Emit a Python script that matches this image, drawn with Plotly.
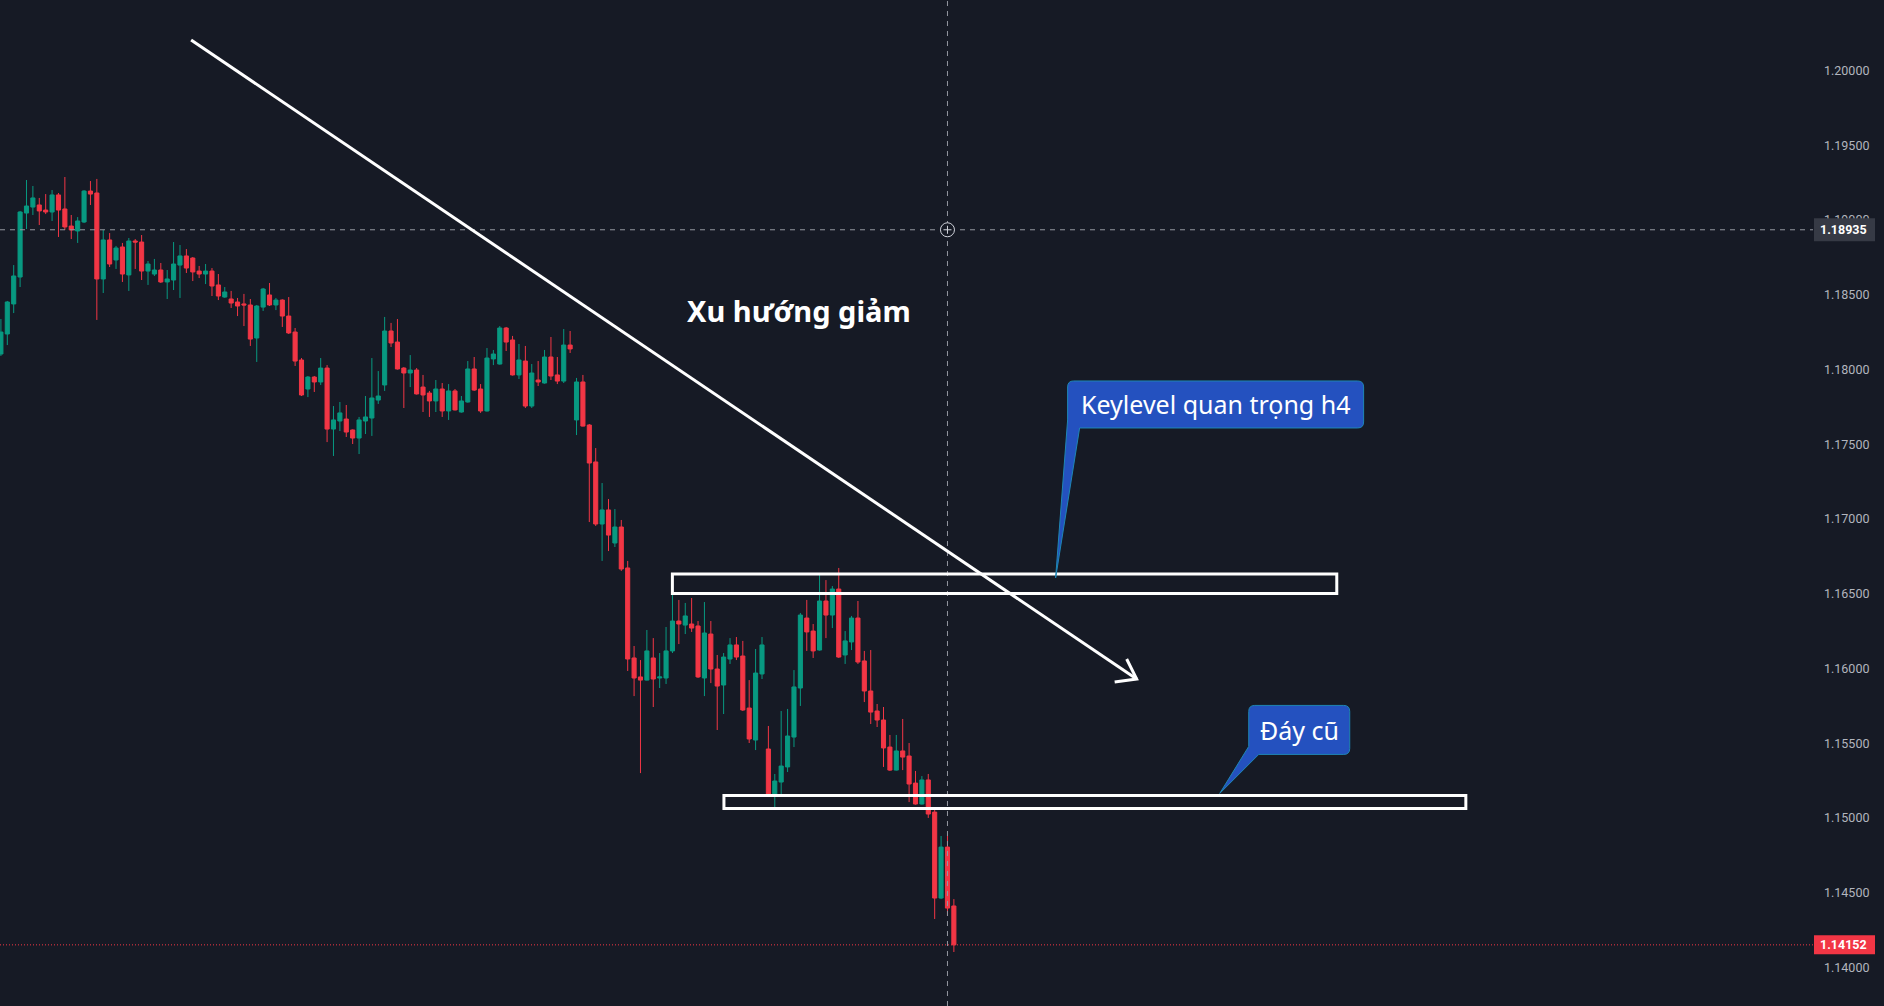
import plotly.graph_objects as go

# ---------------- data (EURUSD-like, H4 bars) ----------------
opens = [1.18104,1.18238,1.18439,1.18619,1.19047,1.19087,1.19101,1.19067,1.19054,1.19168,
         1.19074,1.18960,1.18927,1.18987,1.19194,1.19181,1.18606,1.18867,1.18733,1.18820,
         1.18633,1.18860,1.18853,1.18659,1.18639,1.18666,1.18586,1.18599,1.18699,1.18760,
         1.18746,1.18659,1.18639,1.18659,1.18566,1.18485,1.18472,1.18452,1.18439,1.18432,
         1.18211,1.18418,1.18499,1.18432,1.18465,1.18358,1.18251,1.18064,1.17870,1.17950,
         1.17917,1.18010,1.17602,1.17656,1.17669,1.17596,1.17542,1.17656,1.17676,1.17796,
         1.17897,1.18258,1.18184,1.18010,1.17977,1.17997,1.17883,1.17843,1.17790,1.17870,
         1.17723,1.17857,1.17716,1.17783,1.18004,1.17870,1.17723,1.18071,1.18037,1.18278,
         1.18198,1.17964,1.18057,1.17756,1.17930,1.17910,1.18084,1.17964,1.17923,1.18164,
         1.17663,1.17917,1.17629,1.17382,1.16967,1.17061,1.16840,1.16947,1.16673,1.16071,
         1.15944,1.15923,1.16071,1.15937,1.15937,1.16118,1.16318,1.16291,1.16298,1.16285,
         1.15937,1.16231,1.15997,1.15890,1.16064,1.16158,1.16084,1.15736,1.15522,1.15964,
         1.15462,1.15148,1.15241,1.15342,1.15542,1.15870,1.16338,1.16251,1.16124,1.16452,
         1.16358,1.16532,1.16091,1.16178,1.16338,1.16051,1.15850,1.15716,1.15656,1.15475,
         1.15321,1.15449,1.15415,1.15234,1.15094,1.15255,1.15040,1.14465,1.14806,1.14412]
highs = [1.18338,1.18459,1.18699,1.19061,1.19268,1.19228,1.19148,1.19174,1.19201,1.19181,
         1.19288,1.19034,1.19020,1.19200,1.19261,1.19275,1.18934,1.18913,1.18827,1.18847,
         1.18880,1.18873,1.18900,1.18726,1.18740,1.18713,1.18666,1.18853,1.18833,1.18806,
         1.18753,1.18693,1.18706,1.18679,1.18639,1.18552,1.18526,1.18479,1.18506,1.18472,
         1.18432,1.18546,1.18579,1.18479,1.18470,1.18485,1.18278,1.18077,1.17957,1.17957,
         1.18077,1.18030,1.17756,1.17783,1.17763,1.17600,1.17683,1.17823,1.18077,1.17990,
         1.18352,1.18312,1.18338,1.18017,1.18097,1.18010,1.17964,1.17857,1.17930,1.17910,
         1.17903,1.17870,1.17823,1.18057,1.18084,1.17903,1.18144,1.18131,1.18291,1.18285,
         1.18225,1.18171,1.18158,1.18037,1.18057,1.18131,1.18218,1.18084,1.18271,1.18258,
         1.17944,1.17964,1.17636,1.17475,1.17241,1.17134,1.17067,1.16994,1.16720,1.16151,
         1.16057,1.16258,1.16204,1.16104,1.16278,1.16546,1.16459,1.16439,1.16472,1.16318,
         1.16445,1.16318,1.16091,1.16104,1.16204,1.16211,1.16185,1.15923,1.16131,1.16211,
         1.15616,1.15295,1.15716,1.15730,1.15990,1.16372,1.16459,1.16298,1.16633,1.16592,
         1.16552,1.16673,1.16251,1.16352,1.16452,1.16118,1.16124,1.15763,1.15743,1.15556,
         1.15556,1.15663,1.15502,1.15315,1.15281,1.15295,1.15060,1.14880,1.14880,1.14458]
lows = [1.18091,1.18164,1.18378,1.18552,1.18940,1.19034,1.18967,1.19040,1.18994,1.18887,
        1.18934,1.18873,1.18847,1.18980,1.19101,1.18332,1.18512,1.18686,1.18673,1.18586,
        1.18526,1.18673,1.18599,1.18566,1.18626,1.18579,1.18472,1.18532,1.18479,1.18646,
        1.18592,1.18612,1.18572,1.18492,1.18465,1.18480,1.18412,1.18358,1.18291,1.18158,
        1.18051,1.18392,1.18425,1.18398,1.18285,1.18238,1.18024,1.17823,1.17816,1.17850,
        1.17897,1.17515,1.17422,1.17589,1.17549,1.17502,1.17435,1.17569,1.17556,1.17770,
        1.17857,1.18151,1.18000,1.17743,1.17883,1.17833,1.17716,1.17683,1.17716,1.17683,
        1.17663,1.17726,1.17712,1.17779,1.17857,1.17710,1.17719,1.18030,1.18033,1.18124,
        1.17960,1.17937,1.17743,1.17743,1.17890,1.17906,1.17930,1.17903,1.17910,1.18111,
        1.17562,1.17619,1.16980,1.16954,1.16720,1.16786,1.16813,1.16653,1.15984,1.15816,
        1.15301,1.15920,1.15743,1.15870,1.15897,1.16104,1.16164,1.16231,1.16245,1.15937,
        1.15816,1.15903,1.15589,1.15696,1.16031,1.16057,1.15716,1.15502,1.15455,1.15930,
        1.15144,1.15067,1.15154,1.15308,1.15475,1.15750,1.16118,1.16071,1.16120,1.16204,
        1.16271,1.16071,1.16031,1.16124,1.16031,1.15776,1.15629,1.15609,1.15342,1.15315,
        1.15318,1.15321,1.15107,1.15090,1.15090,1.15001,1.14325,1.14458,1.14345,1.14104]
closes = [1.18251,1.18452,1.18626,1.19054,1.19094,1.19148,1.19061,1.19054,1.19168,1.19067,
          1.18954,1.18934,1.18994,1.19194,1.19174,1.18606,1.18867,1.18706,1.18813,1.18639,
          1.18860,1.18853,1.18659,1.18706,1.18666,1.18586,1.18606,1.18706,1.18760,1.18679,
          1.18653,1.18639,1.18659,1.18559,1.18492,1.18519,1.18445,1.18425,1.18432,1.18204,
          1.18425,1.18539,1.18432,1.18465,1.18358,1.18245,1.18057,1.17830,1.17950,1.17917,
          1.18010,1.17602,1.17663,1.17710,1.17582,1.17542,1.17663,1.17683,1.17810,1.17823,
          1.18258,1.18178,1.18004,1.17977,1.17997,1.17837,1.17830,1.17790,1.17870,1.17723,
          1.17857,1.17730,1.17790,1.18004,1.17863,1.17723,1.18077,1.18104,1.18278,1.18184,
          1.17964,1.18064,1.17756,1.17977,1.17917,1.18084,1.17957,1.17923,1.18164,1.18138,
          1.17917,1.17622,1.17375,1.16967,1.17061,1.16893,1.16947,1.16666,1.16064,1.15937,
          1.15923,1.16118,1.15930,1.15944,1.16118,1.16318,1.16298,1.16352,1.16271,1.15944,
          1.16238,1.15997,1.15883,1.16077,1.16158,1.16077,1.15723,1.15529,1.15970,1.16158,
          1.15148,1.15248,1.15348,1.15549,1.15877,1.16358,1.16245,1.16118,1.16452,1.16358,
          1.16532,1.16077,1.16185,1.16338,1.16044,1.15850,1.15709,1.15656,1.15469,1.15321,
          1.15449,1.15408,1.15228,1.15094,1.15255,1.15027,1.14465,1.14806,1.14398,1.14152]
bars = list(range(len(closes)))

tick_vals = [1.140, 1.145, 1.150, 1.155, 1.160, 1.165, 1.170, 1.175, 1.180, 1.185, 1.190, 1.195, 1.200]
tick_text = ["1.14000", "1.14500", "1.15000", "1.15500", "1.16000", "1.16500", "1.17000",
             "1.17500", "1.18000", "1.18500", "1.19000", "1.19500", "1.20000"]

crosshair_bar = 148
crosshair_price = 1.18935
last_price = closes[-1]

# drawings (bar index, price)
trend_start = (29.74, 1.20204)
trend_end = (177.58, 1.15930)
arrow_wing_a = (174.14, 1.15910)
arrow_wing_b = (176.02, 1.16064)
key_box = (104.99, 208.87, 1.16502, 1.16632)
low_box = (113.05, 229.05, 1.15064, 1.15151)
trend_label = "Xu hướng giảm"
trend_label_pos = (124.86, 1.18392)
callout1_text = "Keylevel quan trọng h4"
callout1_tip = (164.91, 1.16606)
callout2_text = "Đáy cũ"
callout2_tip = (190.57, 1.15165)

BG = "#161a25"
UP = "#089981"
DOWN = "#f23645"
CALL_FILL = "#2451bf"
CALL_EDGE = "#1f86b4"

fig = go.Figure()
fig.add_trace(go.Candlestick(
    x=bars, open=opens, high=highs, low=lows, close=closes,
    increasing=dict(line=dict(color=UP, width=1), fillcolor=UP),
    decreasing=dict(line=dict(color=DOWN, width=1), fillcolor=DOWN),
    whiskerwidth=0, hoverinfo="skip", showlegend=False,
))


def callout_path(L, R, T, B, r, pl, pr):
    # pixel offsets relative to the tip, y positive upward
    return (f"M{L + r},{T} L{R - r},{T} Q{R},{T} {R},{T - r} L{R},{B + r} "
            f"Q{R},{B} {R - r},{B} L{pr},{B} L0,0 L{L},{B + pl} L{L},{T - r} "
            f"Q{L},{T} {L + r},{T} Z")


shapes = []
# crosshair
shapes.append(dict(type="line", xref="x", yref="paper", x0=crosshair_bar, x1=crosshair_bar, y0=0, y1=1,
                   line=dict(color="#9598a1", width=1, dash="5px,5px"), layer="above"))
shapes.append(dict(type="line", xref="paper", yref="y", x0=0, x1=1, y0=crosshair_price, y1=crosshair_price,
                   line=dict(color="#9598a1", width=1, dash="5px,5px"), layer="above"))
# last price dotted line
shapes.append(dict(type="line", xref="paper", yref="y", x0=0, x1=1, y0=last_price, y1=last_price,
                   line=dict(color=DOWN, width=1, dash="1px,2px"), layer="above"))
# trend line + arrow head
shapes.append(dict(type="line", xref="x", yref="y", x0=trend_start[0], y0=trend_start[1],
                   x1=trend_end[0], y1=trend_end[1], line=dict(color="#ffffff", width=3), layer="above"))
shapes.append(dict(type="path", xref="x", yref="y",
                   path=f"M{arrow_wing_a[0]},{arrow_wing_a[1]} L{trend_end[0]},{trend_end[1]} L{arrow_wing_b[0]},{arrow_wing_b[1]}",
                   line=dict(color="#ffffff", width=3), layer="above"))
# rectangles
for bx in (key_box, low_box):
    shapes.append(dict(type="rect", xref="x", yref="y", x0=bx[0], x1=bx[1], y0=bx[2], y1=bx[3],
                       line=dict(color="#ffffff", width=3), fillcolor="rgba(0,0,0,0)", layer="above"))
# callouts
shapes.append(dict(type="path", xref="x", yref="y", xsizemode="pixel", ysizemode="pixel",
                   xanchor=callout1_tip[0], yanchor=callout1_tip[1],
                   path=callout_path(12, 308, 197, 150, 6, 8, 24),
                   fillcolor=CALL_FILL, line=dict(color=CALL_EDGE, width=1), layer="above"))
shapes.append(dict(type="path", xref="x", yref="y", xsizemode="pixel", ysizemode="pixel",
                   xanchor=callout2_tip[0], yanchor=callout2_tip[1],
                   path=callout_path(29, 130, 88, 39, 6, 8, 39),
                   fillcolor=CALL_FILL, line=dict(color=CALL_EDGE, width=1), layer="above"))
# crosshair centre marker
shapes.append(dict(type="circle", xref="x", yref="y", xsizemode="pixel", ysizemode="pixel",
                   xanchor=crosshair_bar, yanchor=crosshair_price, x0=-7, x1=7, y0=-7, y1=7,
                   fillcolor=BG, line=dict(color="#d1d4dc", width=1), layer="above"))
shapes.append(dict(type="path", xref="x", yref="y", xsizemode="pixel", ysizemode="pixel",
                   xanchor=crosshair_bar, yanchor=crosshair_price, path="M-4,0 L4,0 M0,-4 L0,4",
                   line=dict(color="#d1d4dc", width=1), layer="above"))
# price-axis labels
PLOT_W = 1813.0
shapes.append(dict(type="rect", xref="paper", yref="y", ysizemode="pixel", yanchor=crosshair_price,
                   x0=1814 / PLOT_W, x1=1875 / PLOT_W, y0=-11.5, y1=11.5,
                   fillcolor="#363a45", line=dict(width=0), layer="above"))
shapes.append(dict(type="rect", xref="paper", yref="y", ysizemode="pixel", yanchor=last_price,
                   x0=1814 / PLOT_W, x1=1875 / PLOT_W, y0=-9.5, y1=9.5,
                   fillcolor=DOWN, line=dict(width=0), layer="above"))

annotations = [
    dict(xref="x", yref="y", x=trend_label_pos[0], y=trend_label_pos[1], text=trend_label,
         showarrow=False, font=dict(family="Noto Sans", size=29, color="#ffffff", weight="bold"),
         xanchor="center", yanchor="middle"),
    dict(xref="x", yref="y", x=callout1_tip[0], y=callout1_tip[1], xshift=160, yshift=173.5,
         text=callout1_text, showarrow=False,
         font=dict(family="Noto Sans", size=25, color="#ffffff"), xanchor="center", yanchor="middle"),
    dict(xref="x", yref="y", x=callout2_tip[0], y=callout2_tip[1], xshift=79.5, yshift=63.5,
         text=callout2_text, showarrow=False,
         font=dict(family="Noto Sans", size=25, color="#ffffff"), xanchor="center", yanchor="middle"),
    dict(xref="paper", yref="y", x=1869 / PLOT_W, y=crosshair_price, text=f"{crosshair_price:.5f}",
         showarrow=False, xanchor="right", yanchor="middle",
         font=dict(family="Roboto", size=12.5, color="#ffffff", weight="bold")),
    dict(xref="paper", yref="y", x=1869 / PLOT_W, y=last_price, text=f"{last_price:.5f}",
         showarrow=False, xanchor="right", yanchor="middle",
         font=dict(family="Roboto", size=12.5, color="#ffffff", weight="bold")),
]

fig.update_layout(
    width=1884, height=1006,
    margin=dict(l=0, r=71, t=0, b=0),
    paper_bgcolor=BG, plot_bgcolor=BG,
    boxgap=0.2, boxgroupgap=0.2,
    shapes=shapes, annotations=annotations,
    showlegend=False,
    xaxis=dict(range=[-0.142, 283.33], visible=False, rangeslider=dict(visible=False),
               showgrid=False, zeroline=False),
    yaxis=dict(side="right", range=[1.13743, 1.20472], tickvals=tick_vals, ticktext=tick_text,
               showgrid=False, zeroline=False, ticks="", showline=False,
               tickfont=dict(family="Roboto", size=12.5, color="#b2b5be"), ticklabelstandoff=10),
)

fig.write_html("out.html", config={"displayModeBar": False},
               post_script="document.body.style.margin='0px';document.body.style.overflow='hidden';")
